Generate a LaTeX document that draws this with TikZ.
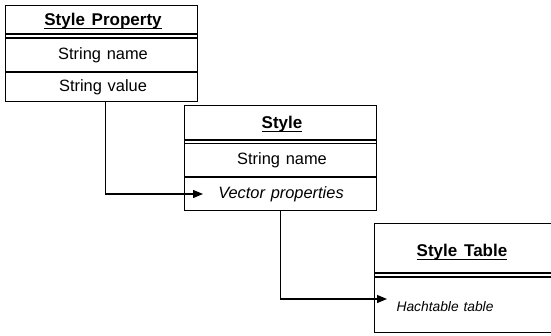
\documentclass[tikz,border=0pt]{standalone}
\usepackage{fontspec}
\setmainfont{Liberation Sans}
\usetikzlibrary{arrows.meta}

\tikzset{
  frame/.style={draw, line width=1.2pt, inner sep=0pt, anchor=north west},
  txt/.style={inner sep=0pt, font=\fontsize{16.4}{19}\selectfont},
  ttl/.style={inner sep=0pt, font=\fontsize{17}{20}\selectfont\bfseries},
  sep/.style={line width=1.1pt},
  wire/.style={line width=1.2pt, -{Triangle[length=10pt,width=8pt]}}
}
% class name with a heavy underline
\newcommand{\heading}[1]{\setbox0\hbox{#1}\rlap{\usebox0}\rule[-3.6pt]{\wd0}{1.4pt}}

\begin{document}
\begin{tikzpicture}[x=1pt, y=-1pt]
  \useasboundingbox (0,0) rectangle (551,335);
  \clip (0,0) rectangle (551,335);

  % StyleProperty class
  \node[frame, minimum width=192pt, minimum height=96pt] (sp) at (5,5) {};
  \draw[sep] (5,34) -- (197,34);
  \draw[sep] (5,38) -- (197,38);
  \draw[sep] (5,72) -- (197,72);
  \node[ttl] (sp-title) at (103,21) {\heading{Style\hspace{0.4em}Property}};
  \node[txt] (sp-name)  at (103,55) {String\hspace{0.35em}name};
  \node[txt] (sp-value) at (103,87) {String\hspace{0.35em}value};

  % Style class
  \node[frame, minimum width=192pt, minimum height=105pt] (st) at (184,105) {};
  \draw[sep] (184,140) -- (376,140);
  \draw[sep] (184,143.5) -- (376,143.5);
  \draw[sep] (184,177) -- (376,177);
  \node[ttl] (st-title) at (282,124) {\heading{Style}};
  \node[txt] (st-name)  at (282,160) {String\hspace{0.35em}name};
  \node[txt] (st-vec)   at (281,194) {\itshape Vector\hspace{0.35em}properties};

  % StyleTable class (runs past the right edge)
  \node[frame, minimum width=190pt, minimum height=109pt] (tb) at (374,223) {};
  \draw[sep] (374,273) -- (564,273);
  \draw[sep] (374,277) -- (564,277);
  \node[ttl] (tb-title) at (462,252) {\heading{Style\hspace{0.4em}Table}};
  \node[txt, font=\fontsize{13.8}{16}\selectfont\itshape] (tb-table) at (445,307) {Hachtable\hspace{0.35em}table};

  % references between classes
  \coordinate (a1) at ([xshift=19pt]st.west |- st-vec);
  \coordinate (a2) at ([xshift=13pt]tb.west |- 0,299);
  \draw[wire] ([xshift=4pt]sp.south) |- (a1);
  \draw[wire] (st.south) |- (a2);
\end{tikzpicture}
\end{document}
